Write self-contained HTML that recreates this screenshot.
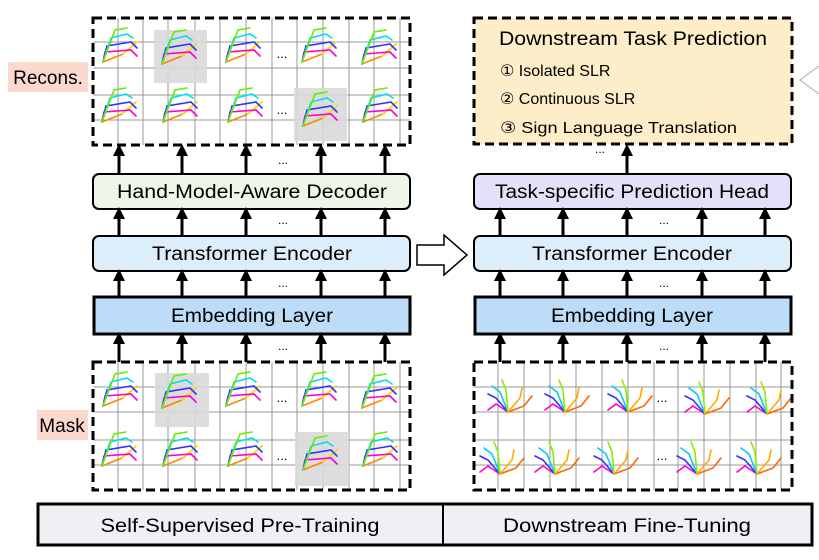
<!DOCTYPE html>
<html><head><meta charset="utf-8"><style>
html,body{margin:0;padding:0;background:#fff;}
svg{display:block;font-family:"Liberation Sans","DejaVu Sans",sans-serif;}
</style></head><body>
<svg width="819" height="560" viewBox="0 0 819 560" xmlns="http://www.w3.org/2000/svg">
<defs>
<marker id="ah" markerWidth="4" markerHeight="4" refX="2" refY="2" orient="auto" markerUnits="strokeWidth">
<path d="M0,0 L4,2 L0,4 z" fill="#000"/></marker>
<g id="h1" fill="none" stroke-width="1.6" stroke-linecap="round">
<polyline points="0,34 20,26 34,14" stroke="#ff8800"/><polyline points="20,26 34,14" stroke="#ffdd00"/>
<polyline points="0,34 2,24 28,22 34,28" stroke="#ff00cc"/>
<polyline points="0,34 4,18 28,14 34,20" stroke="#3333ff"/>
<polyline points="0,34 8,10 24,6 30,10" stroke="#00ddee"/>
<polyline points="0,34 12,2 24,0" stroke="#66ee00"/>
</g>
<g id="h2" fill="none" stroke-width="1.6" stroke-linecap="round">
<polyline points="0,34 16,28 24,18" stroke="#ff6600"/>
<polyline points="0,34 -12,26 -20,32" stroke="#ff00cc"/>
<polyline points="0,34 -12,20 -20,16" stroke="#3333ff"/>
<polyline points="0,34 -8,14 -16,8" stroke="#00ccff"/>
<polyline points="0,34 -2,12 -6,2" stroke="#88ee00"/>
<polyline points="0,34 12,20 14,10" stroke="#ffaa00"/>
</g>
</defs>

<!-- left recon grid -->
<g stroke="#999" stroke-width="1">
<line x1="93" y1="42" x2="410" y2="42"/><line x1="93" y1="68" x2="410" y2="68"/>
<line x1="93" y1="95" x2="410" y2="95"/><line x1="93" y1="120" x2="410" y2="120"/>
<line x1="118" y1="18" x2="118" y2="145"/><line x1="143" y1="18" x2="143" y2="145"/><line x1="168" y1="18" x2="168" y2="145"/><line x1="195" y1="18" x2="195" y2="145"/><line x1="220" y1="18" x2="220" y2="145"/><line x1="246" y1="18" x2="246" y2="145"/><line x1="272" y1="18" x2="272" y2="145"/><line x1="297" y1="18" x2="297" y2="145"/><line x1="323" y1="18" x2="323" y2="145"/><line x1="349" y1="18" x2="349" y2="145"/><line x1="374" y1="18" x2="374" y2="145"/><line x1="400" y1="18" x2="400" y2="145"/>
</g>
<rect x="154" y="30" width="53" height="53" fill="#d9d9d9" opacity="0.9"/>
<rect x="294" y="88" width="53" height="53" fill="#d9d9d9" opacity="0.9"/>
<use href="#h1" x="103" y="28"/><use href="#h1" x="162" y="30"/><use href="#h1" x="226" y="28"/><use href="#h1" x="302" y="28"/><use href="#h1" x="362" y="30"/>
<use href="#h1" x="102" y="88"/><use href="#h1" x="163" y="88"/><use href="#h1" x="228" y="88"/><use href="#h1" x="303" y="92"/><use href="#h1" x="363" y="88"/>
<text x="282" y="58" font-size="13" text-anchor="middle">...</text>
<text x="282" y="114" font-size="13" text-anchor="middle">...</text>
<rect x="93" y="18" width="317" height="127" fill="none" stroke="#000" stroke-width="3" stroke-dasharray="9,5"/>
<rect x="8" y="62" width="80" height="30" fill="#fbd9cf"/>
<text x="48" y="84" font-size="19" text-anchor="middle">Recons.</text>

<!-- left mask grid -->
<g stroke="#999" stroke-width="1">
<line x1="93" y1="387" x2="410" y2="387"/><line x1="93" y1="412" x2="410" y2="412"/>
<line x1="93" y1="440" x2="410" y2="440"/><line x1="93" y1="465" x2="410" y2="465"/>
<line x1="118" y1="362" x2="118" y2="490"/><line x1="143" y1="362" x2="143" y2="490"/><line x1="168" y1="362" x2="168" y2="490"/><line x1="195" y1="362" x2="195" y2="490"/><line x1="220" y1="362" x2="220" y2="490"/><line x1="246" y1="362" x2="246" y2="490"/><line x1="272" y1="362" x2="272" y2="490"/><line x1="297" y1="362" x2="297" y2="490"/><line x1="323" y1="362" x2="323" y2="490"/><line x1="349" y1="362" x2="349" y2="490"/><line x1="374" y1="362" x2="374" y2="490"/><line x1="400" y1="362" x2="400" y2="490"/>
</g>
<rect x="155" y="373" width="54" height="54" fill="#d9d9d9" opacity="0.9"/>
<rect x="295" y="432" width="54" height="54" fill="#d9d9d9" opacity="0.9"/>
<use href="#h1" x="103" y="372"/><use href="#h1" x="162" y="374"/><use href="#h1" x="226" y="372"/><use href="#h1" x="302" y="372"/><use href="#h1" x="362" y="374"/>
<use href="#h1" x="102" y="432"/><use href="#h1" x="163" y="432"/><use href="#h1" x="228" y="432"/><use href="#h1" x="303" y="436"/><use href="#h1" x="363" y="432"/>
<text x="282" y="402" font-size="13" text-anchor="middle">...</text>
<text x="282" y="460" font-size="13" text-anchor="middle">...</text>
<rect x="93" y="362" width="317" height="128" fill="none" stroke="#000" stroke-width="3" stroke-dasharray="9,5"/>
<rect x="37" y="410" width="51" height="30" fill="#fbd9cf"/>
<text x="62" y="432" font-size="19" text-anchor="middle">Mask</text>

<!-- right input grid -->
<g stroke="#999" stroke-width="1">
<line x1="473" y1="387" x2="792" y2="387"/><line x1="473" y1="412" x2="792" y2="412"/>
<line x1="473" y1="440" x2="792" y2="440"/><line x1="473" y1="465" x2="792" y2="465"/>
<line x1="498" y1="362" x2="498" y2="490"/><line x1="524" y1="362" x2="524" y2="490"/><line x1="550" y1="362" x2="550" y2="490"/><line x1="576" y1="362" x2="576" y2="490"/><line x1="602" y1="362" x2="602" y2="490"/><line x1="628" y1="362" x2="628" y2="490"/><line x1="654" y1="362" x2="654" y2="490"/><line x1="678" y1="362" x2="678" y2="490"/><line x1="704" y1="362" x2="704" y2="490"/><line x1="730" y1="362" x2="730" y2="490"/><line x1="756" y1="362" x2="756" y2="490"/><line x1="781" y1="362" x2="781" y2="490"/>
</g>
<use href="#h2" x="508" y="378"/><use href="#h2" x="565" y="378"/><use href="#h2" x="628" y="378"/><use href="#h2" x="705" y="380"/><use href="#h2" x="767" y="380"/>
<use href="#h2" x="500" y="440"/><use href="#h2" x="555" y="440"/><use href="#h2" x="614" y="440"/><use href="#h2" x="697" y="440"/><use href="#h2" x="757" y="440"/>
<text x="662" y="402" font-size="13" text-anchor="middle">...</text>
<text x="662" y="460" font-size="13" text-anchor="middle">...</text>
<rect x="474" y="362" width="318" height="128" fill="none" stroke="#000" stroke-width="3" stroke-dasharray="9,5"/>

<!-- downstream box -->
<rect x="474" y="18" width="318" height="126" fill="#fdedc8" stroke="#000" stroke-width="3" stroke-dasharray="9,5"/>
<text x="633" y="45" font-size="19" text-anchor="middle" textLength="268" lengthAdjust="spacingAndGlyphs">Downstream Task Prediction</text>
<text x="500" y="76" font-size="16">① Isolated SLR</text>
<text x="500" y="104" font-size="16">② Continuous SLR</text>
<text x="500" y="133" font-size="16" textLength="237" lengthAdjust="spacingAndGlyphs">③ Sign Language Translation</text>
<polyline points="819,66 800,80 819,94" fill="none" stroke="#aaa" stroke-width="1"/>

<!-- boxes -->
<rect x="93" y="174" width="317" height="35" rx="6" fill="#edf6e9" stroke="#000" stroke-width="2"/>
<text x="252" y="198" font-size="19" text-anchor="middle" textLength="270" lengthAdjust="spacingAndGlyphs">Hand-Model-Aware Decoder</text>
<rect x="93" y="236" width="317" height="35" rx="6" fill="#ddeefb" stroke="#000" stroke-width="2"/>
<text x="252" y="260" font-size="19" text-anchor="middle" textLength="200" lengthAdjust="spacingAndGlyphs">Transformer Encoder</text>
<rect x="94" y="297" width="316" height="37" fill="#bcdcf7" stroke="#000" stroke-width="3"/>
<text x="252" y="322" font-size="19" text-anchor="middle" textLength="162" lengthAdjust="spacingAndGlyphs">Embedding Layer</text>

<rect x="474" y="174" width="317" height="35" rx="6" fill="#e4e0fa" stroke="#000" stroke-width="2"/>
<text x="632" y="198" font-size="19" text-anchor="middle" textLength="274" lengthAdjust="spacingAndGlyphs">Task-specific Prediction Head</text>
<rect x="474" y="236" width="317" height="35" rx="6" fill="#ddeefb" stroke="#000" stroke-width="2"/>
<text x="632" y="260" font-size="19" text-anchor="middle" textLength="200" lengthAdjust="spacingAndGlyphs">Transformer Encoder</text>
<rect x="475" y="297" width="316" height="37" fill="#bcdcf7" stroke="#000" stroke-width="3"/>
<text x="632" y="322" font-size="19" text-anchor="middle" textLength="162" lengthAdjust="spacingAndGlyphs">Embedding Layer</text>

<!-- hollow arrow -->
<polygon points="417,245 444,245 444,235 467,255 444,275 444,265 417,265" fill="#fff" stroke="#000" stroke-width="1.5"/>

<!-- arrows -->
<g stroke="#000" stroke-width="3" marker-end="url(#ah)">
<line x1="119" y1="174" x2="119" y2="150"/><line x1="182" y1="174" x2="182" y2="150"/><line x1="246" y1="174" x2="246" y2="150"/><line x1="321" y1="174" x2="321" y2="150"/><line x1="385" y1="174" x2="385" y2="150"/>
<line x1="119" y1="236" x2="119" y2="213"/><line x1="182" y1="236" x2="182" y2="213"/><line x1="246" y1="236" x2="246" y2="213"/><line x1="321" y1="236" x2="321" y2="213"/><line x1="385" y1="236" x2="385" y2="213"/>
<line x1="119" y1="297" x2="119" y2="275"/><line x1="182" y1="297" x2="182" y2="275"/><line x1="246" y1="297" x2="246" y2="275"/><line x1="321" y1="297" x2="321" y2="275"/><line x1="385" y1="297" x2="385" y2="275"/>
<line x1="119" y1="362" x2="119" y2="338"/><line x1="182" y1="362" x2="182" y2="338"/><line x1="246" y1="362" x2="246" y2="338"/><line x1="321" y1="362" x2="321" y2="338"/><line x1="385" y1="362" x2="385" y2="338"/>
<line x1="627" y1="174" x2="627" y2="150"/>
<line x1="500" y1="236" x2="500" y2="213"/><line x1="563" y1="236" x2="563" y2="213"/><line x1="627" y1="236" x2="627" y2="213"/><line x1="702" y1="236" x2="702" y2="213"/><line x1="765" y1="236" x2="765" y2="213"/>
<line x1="500" y1="297" x2="500" y2="275"/><line x1="563" y1="297" x2="563" y2="275"/><line x1="627" y1="297" x2="627" y2="275"/><line x1="702" y1="297" x2="702" y2="275"/><line x1="765" y1="297" x2="765" y2="275"/>
<line x1="500" y1="362" x2="500" y2="338"/><line x1="563" y1="362" x2="563" y2="338"/><line x1="627" y1="362" x2="627" y2="338"/><line x1="702" y1="362" x2="702" y2="338"/><line x1="765" y1="362" x2="765" y2="338"/>
</g>
<g font-size="12" text-anchor="middle">
<text x="283" y="164">...</text><text x="283" y="224">...</text><text x="283" y="287">...</text><text x="283" y="350">...</text>
<text x="600" y="153">...</text><text x="664" y="224">...</text><text x="664" y="287">...</text><text x="664" y="350">...</text>
</g>

<!-- bottom bar -->
<rect x="38" y="504" width="774" height="41" fill="#eef0f4" stroke="#000" stroke-width="3"/>
<line x1="443" y1="504" x2="443" y2="545" stroke="#000" stroke-width="2"/>
<text x="240" y="532" font-size="19" text-anchor="middle" textLength="279" lengthAdjust="spacingAndGlyphs">Self-Supervised Pre-Training</text>
<text x="627" y="532" font-size="19" text-anchor="middle" textLength="248" lengthAdjust="spacingAndGlyphs">Downstream Fine-Tuning</text>
</svg>
</body></html>
